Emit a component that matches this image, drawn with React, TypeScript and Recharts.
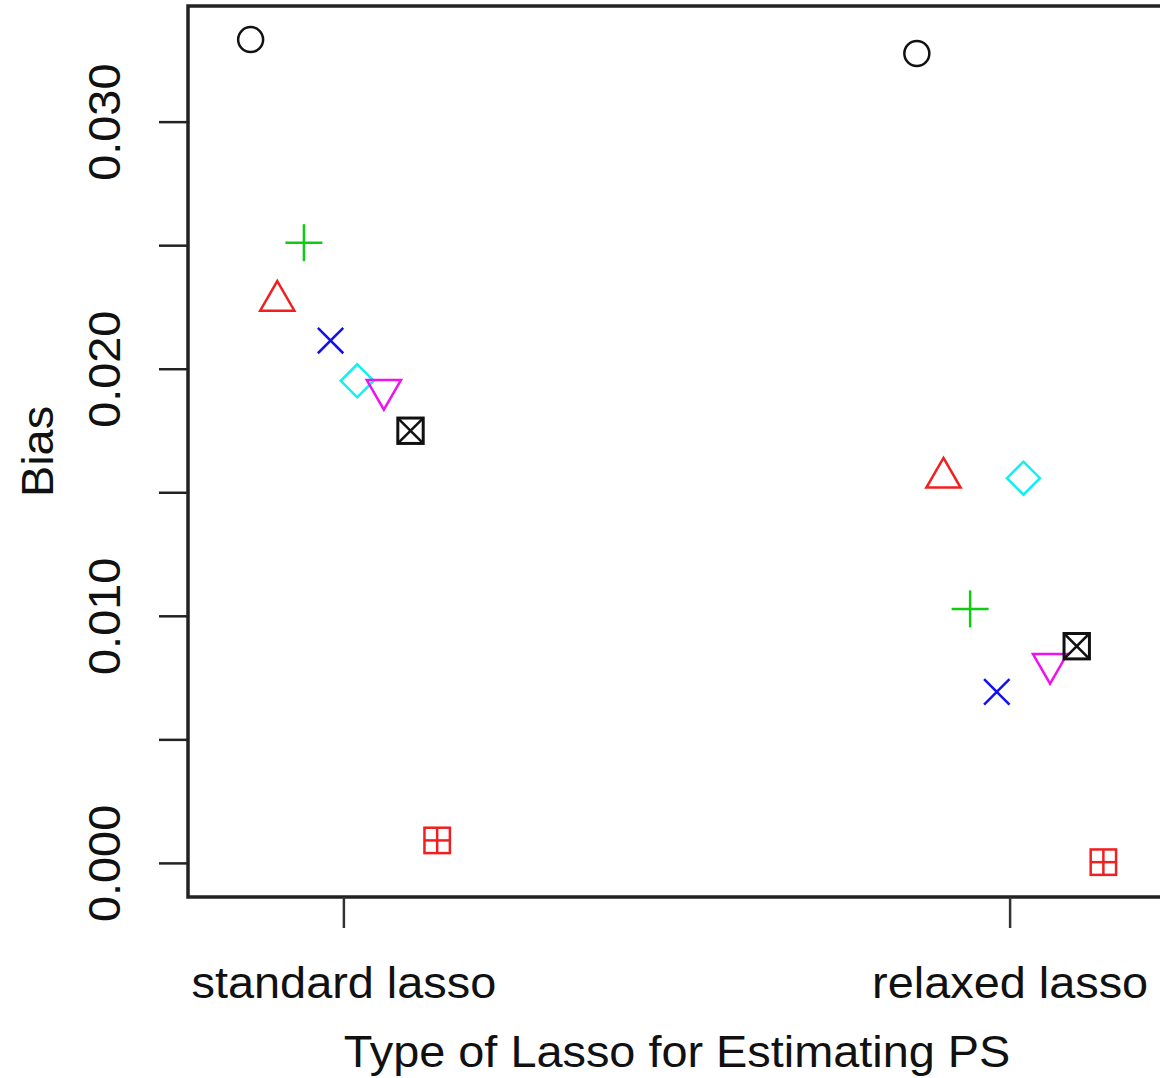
import { ScatterChart, Scatter, XAxis, YAxis, ReferenceArea } from "recharts";

const categories = ["standard lasso", "relaxed lasso"];
// one entry per PS method, plotted side by side within each lasso type
const markerKinds = ["circle", "triangle", "plus", "cross", "diamond", "triangleDown", "squareCross", "squarePlus"];
const markerColors = ["#111111", "#F02020", "#10CC10", "#1010F0", "#10F0F0", "#F010F0", "#111111", "#F02020"];
const standardBias = [0.03334, 0.02277, 0.02512, 0.02116, 0.01953, 0.01916, 0.01751, 0.00093];
const relaxedBias = [0.03278, 0.01561, 0.0103, 0.00694, 0.01559, 0.00807, 0.00879, 0.00005];
const yTicks = [0, 0.005, 0.01, 0.015, 0.02, 0.025, 0.03];
const labeledYTicks = [0, 0.01, 0.02, 0.03];

const X_DOMAIN: [number, number] = [0.766, 2.234];
const Y_DOMAIN: [number, number] = [-0.00136, 0.0347];
const DODGE = 0.04;
const FONT = "'Liberation Sans', Arial, Helvetica, sans-serif";
const INK = "#111";
const STRETCH = 1.065; // R's font renders a bit wider than Liberation Sans

const series = markerKinds.map((kind, i) => ({
  kind,
  color: markerColors[i],
  data: [
    { x: 1 + (i - 3.5) * DODGE, y: standardBias[i] },
    { x: 2 + (i - 3.5) * DODGE, y: relaxedBias[i] },
  ],
}));

// text centered at (x, y) baseline, optionally rotated
function RText({ x, y, rotate = 0, children }: { x: number; y: number; rotate?: number; children: any }) {
  return (
    <g transform={`translate(${x}, ${y}) rotate(${rotate}) scale(${STRETCH}, 1)`}>
      <text x={0} y={0} textAnchor="middle" fontSize={44} fill={INK} fontFamily={FONT}>
        {children}
      </text>
    </g>
  );
}

function Marker({ cx, cy, kind, color }: { cx?: number; cy?: number; kind: string; color: string }) {
  if (cx == null || cy == null) return null;
  const sw = 2.5;
  const p = { stroke: color, strokeWidth: sw, fill: "none" };
  const r = 12.7;
  if (kind === "circle") return <circle cx={cx} cy={cy} r={12.5} {...p} />;
  if (kind === "triangle" || kind === "triangleDown") {
    const top = 1.555 * r;
    const half = 1.3468 * r;
    const base = 0.7776 * r;
    const s = kind === "triangle" ? 1 : -1;
    const pts = `${cx},${cy - s * top} ${cx + half},${cy + s * base} ${cx - half},${cy + s * base}`;
    return <polygon points={pts} {...p} />;
  }
  if (kind === "plus") {
    const h = 18.5;
    return (
      <g {...p}>
        <line x1={cx - h} y1={cy} x2={cx + h} y2={cy} />
        <line x1={cx} y1={cy - h} x2={cx} y2={cy + h} />
      </g>
    );
  }
  if (kind === "cross") {
    return (
      <g {...p}>
        <line x1={cx - r} y1={cy - r} x2={cx + r} y2={cy + r} />
        <line x1={cx - r} y1={cy + r} x2={cx + r} y2={cy - r} />
      </g>
    );
  }
  if (kind === "diamond") {
    const h = 16.5;
    return <polygon points={`${cx},${cy - h} ${cx + h},${cy} ${cx},${cy + h} ${cx - h},${cy}`} {...p} />;
  }
  if (kind === "squareCross") {
    return (
      <g {...p} strokeWidth={3}>
        <rect x={cx - r} y={cy - r} width={2 * r} height={2 * r} />
        <line x1={cx - r} y1={cy - r} x2={cx + r} y2={cy + r} strokeWidth={sw} />
        <line x1={cx - r} y1={cy + r} x2={cx + r} y2={cy - r} strokeWidth={sw} />
      </g>
    );
  }
  // squarePlus
  return (
    <g {...p}>
      <rect x={cx - r} y={cy - r} width={2 * r} height={2 * r} />
      <line x1={cx - r} y1={cy} x2={cx + r} y2={cy} />
      <line x1={cx} y1={cy - r} x2={cx} y2={cy + r} />
    </g>
  );
}

const YTick = ({ x, y, payload }: any) => {
  if (!labeledYTicks.some((t) => Math.abs(t - payload.value) < 1e-9)) return null;
  return (
    <RText x={x - 37} y={y} rotate={-90}>
      {payload.value.toFixed(3)}
    </RText>
  );
};

const XTick = ({ x, y, payload }: any) => (
  <RText x={x} y={y + 68}>
    {categories[Math.round(payload.value) - 1]}
  </RText>
);

export default function App() {
  return (
    <div style={{ position: "absolute", left: 0, top: 0, width: 1160, height: 1078, overflow: "hidden", background: "#fff" }}>
      <ScatterChart width={1170} height={1078} margin={{ top: 6, right: 4, bottom: 0, left: 0 }}>
        <XAxis
          type="number"
          dataKey="x"
          domain={X_DOMAIN}
          ticks={[1, 2]}
          allowDataOverflow
          axisLine={false}
          tickSize={31}
          tickLine={{ stroke: "#333", strokeWidth: 2.5 }}
          tick={<XTick />}
          height={181}
          label={{
            content: ({ viewBox }: any) => (
              <RText x={viewBox.x + viewBox.width / 2} y={viewBox.y + 170}>
                Type of Lasso for Estimating PS
              </RText>
            ),
          }}
        />
        <YAxis
          type="number"
          dataKey="y"
          domain={Y_DOMAIN}
          ticks={yTicks}
          allowDataOverflow
          axisLine={false}
          tickSize={29}
          tickLine={{ stroke: "#222", strokeWidth: 2.5 }}
          tick={<YTick />}
          width={188}
          label={{
            content: ({ viewBox }: any) => (
              <RText x={viewBox.x + 53} y={viewBox.y + viewBox.height / 2} rotate={-90}>
                Bias
              </RText>
            ),
          }}
        />
        <ReferenceArea
          x1={X_DOMAIN[0]}
          x2={X_DOMAIN[1]}
          y1={Y_DOMAIN[0]}
          y2={Y_DOMAIN[1]}
          fill="none"
          fillOpacity={0}
          stroke="#222"
          strokeWidth={3.5}
        />
        {series.map((s) => (
          <Scatter
            key={s.kind}
            data={s.data}
            isAnimationActive={false}
            shape={(props: any) => <Marker cx={props.cx} cy={props.cy} kind={s.kind} color={s.color} />}
          />
        ))}
      </ScatterChart>
    </div>
  );
}
